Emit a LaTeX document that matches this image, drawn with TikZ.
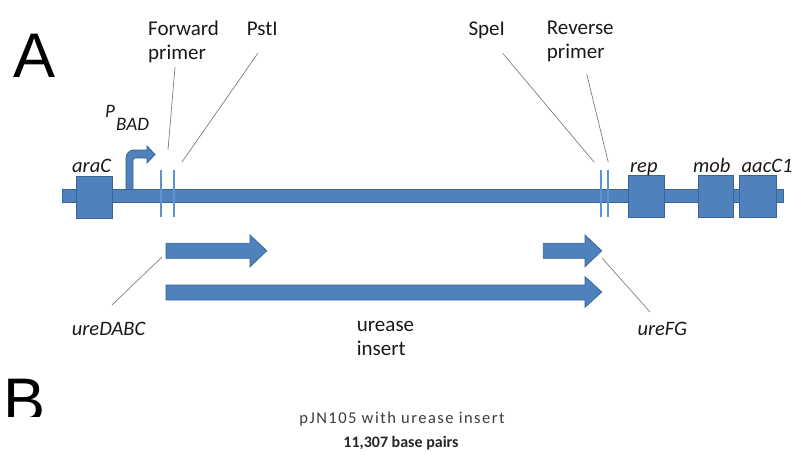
\documentclass[tikz,border=0pt]{standalone}
\usepackage{fontspec}
\setmainfont{Carlito}
\newfontfamily\arialfont{Liberation Sans}
\definecolor{blu}{HTML}{4F81BD}
\definecolor{bluedge}{HTML}{3A6494}
\definecolor{primerblu}{HTML}{5B93D3}
\definecolor{leadgray}{HTML}{7F7F7F}
\definecolor{txtgray}{HTML}{3C3C3C}
\begin{document}
\begin{tikzpicture}[x=1pt,y=-1pt,
  dna/.style={fill=blu, draw=bluedge, line width=0.8pt},
  genebox/.style={dna, rectangle, inner sep=0, minimum width=36pt, minimum height=42pt},
  lbl/.style={inner sep=0, anchor=base west, text=black!90, font=\fontsize{21}{24}\selectfont},
  genelbl/.style={lbl, font=\fontsize{20.5}{24}\selectfont\itshape},
  leader/.style={draw=leadgray, line width=0.7pt},
  primerline/.style={draw=primerblu, line width=2pt},
  panel/.style={inner sep=0, anchor=base west, font=\arialfont\fontsize{63}{63}\selectfont}]
\useasboundingbox (0,0) rectangle (796,455);

% panel letters
\node[panel] (pA) at (13,77) {A};
\begin{scope}
  \clip (0,0) rectangle (80,416);
  \node[panel] (pB) at (3.5,422) {B};
\end{scope}

% promoter bent arrow
\draw[dna] (126,192) -- (126,170) [rounded corners=8pt] -- (126,150) -- (140,150) [sharp corners]
  -- (147,150) -- (147,146) -- (155,154.5) -- (147,163) -- (147,158) -- (141,158)
  [rounded corners=2pt] -- (133,158) -- (133,168) [sharp corners] -- (133,192) -- cycle;

% backbone
\node[dna, rectangle, inner sep=0, minimum width=721pt, minimum height=13pt] (backbone) at (422.5,195.5) {};

% genes
\node[genebox] (araCbox) at (94,197) {};
\node[genebox] (repbox) at (646,196.5) {};
\node[genebox, minimum width=35pt] (mobbox) at (715.5,196.5) {};
\node[genebox, minimum width=37pt] (aacbox) at (757.5,196.5) {};

% primer / site lines
\coordinate (f1t) at (161,170); \coordinate (f1b) at (161,217);
\coordinate (f2t) at (174,170); \coordinate (f2b) at (174,217);
\coordinate (r1t) at (601,170); \coordinate (r1b) at (601,217);
\coordinate (r2t) at (607.5,170); \coordinate (r2b) at (607.5,217);
\draw[primerline] (f1t) -- (f1b);
\draw[primerline] (f2t) -- (f2b);
\draw[primerline] (r1t) -- (r1b);
\draw[primerline] (r2t) -- (r2b);

% gene labels
\node[genelbl] (araC) at (72,172) {araC};
\node[genelbl] (rep) at (630,172) {rep};
\node[genelbl] (mob) at (693,172) {mob};
\node[genelbl] (aacC1) at (741.5,172) {aacC1};
\node[inner sep=0, anchor=base west, text=black!90, font=\fontsize{19}{19}\selectfont\itshape] (P) at (105,117) {P};
\node[inner sep=0, anchor=base west, text=black!90, font=\fontsize{19}{19}\selectfont\itshape] (BAD) at (116,130) {BAD};

% site labels
\node[lbl, align=left, anchor=north west] (fwd) at (148,21) {Forward\\primer};
\node[lbl] (pst) at (246.7,35) {PstI};
\node[lbl] (spe) at (468.3,35) {SpeI};
\node[lbl, align=left, anchor=north west] (rev) at (546.7,21) {Reverse\\primer};

% leaders
\coordinate (fwdA) at (175,67); \coordinate (fwdB) at (168,150);
\coordinate (pstA) at (258,53); \coordinate (pstB) at (182,162);
\coordinate (speA) at (502.7,53.3); \coordinate (speB) at (594.3,162.3);
\coordinate (revA) at (586.7,74); \coordinate (revB) at (608.3,162.3);
\draw[leader] (fwdA) -- (fwdB);
\draw[leader] (pstA) -- (pstB);
\draw[leader] (speA) -- (speB);
\draw[leader] (revA) -- (revB);

% transcript arrows
\draw[dna] (166,243.3) -- (250,243.3) -- (250,235) -- (266.7,250.8) -- (250,266.7) -- (250,258.3) -- (166,258.3) -- cycle;
\draw[dna] (543.3,243.3) -- (585,243.3) -- (585,235) -- (601.7,250.8) -- (585,266.7) -- (585,258.3) -- (543.3,258.3) -- cycle;
\draw[dna] (166,285) -- (585,285) -- (585,276.7) -- (601.7,292) -- (585,307.3) -- (585,300) -- (166,300) -- cycle;

% lower labels
\node[genelbl] (ureDABC) at (71.7,335) {ureDABC};
\node[lbl, align=left, anchor=north west] (insert) at (356.7,321) {urease\\insert};
\node[genelbl] (ureFG) at (637.3,335) {ureFG};
\coordinate (dabcA) at (112,305); \coordinate (dabcB) at (162,257);
\coordinate (fgA) at (602,258); \coordinate (fgB) at (650,312);
\draw[leader] (dabcA) -- (dabcB);
\draw[leader] (fgA) -- (fgB);

% panel B caption
\node[inner sep=0, anchor=base, text=txtgray, font=\fontsize{16.5}{16.5}\selectfont\addfontfeature{LetterSpace=9}] (title) at (402,423) {pJN105 with urease insert};
\node[inner sep=0, anchor=base, text=black!85, font=\fontsize{16}{16}\selectfont\bfseries] (bp) at (401,447) {11,307 base pairs};
\end{tikzpicture}
\end{document}
